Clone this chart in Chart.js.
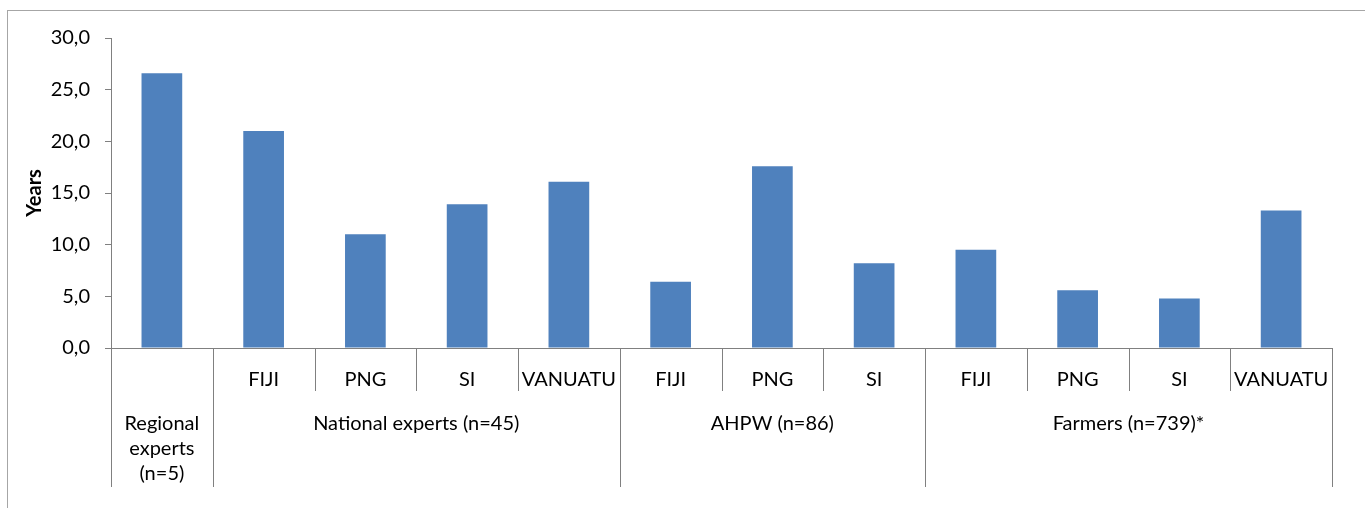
<!DOCTYPE html>
<html>
<head>
<meta charset="utf-8">
<script src="https://cdn.jsdelivr.net/npm/chart.js@4/dist/chart.umd.min.js"></script>
<style>
html,body{margin:0;padding:0;background:#fff;}
#wrap{width:1365px;height:508px;position:relative;}
</style>
</head>
<body>
<div id="wrap"><canvas id="c" width="1365" height="508"></canvas></div>
<script>
// ---- data ----
const groupNames = ['Regional experts (n=5)', 'National experts (n=45)', 'AHPW (n=86)', 'Farmers (n=739)*'];
const groupLines = [['Regional', 'experts', '(n=5)'], ['National experts (n=45)'], ['AHPW (n=86)'], ['Farmers (n=739)*']];
const subLabels = ['', 'FIJI', 'PNG', 'SI', 'VANUATU', 'FIJI', 'PNG', 'SI', 'FIJI', 'PNG', 'SI', 'VANUATU'];
const groupOf = [0, 1, 1, 1, 1, 2, 2, 2, 3, 3, 3, 3];
const values = [26.6, 21.0, 11.0, 13.9, 16.1, 6.4, 17.6, 8.2, 9.5, 5.6, 4.8, 13.3];
const yTicks = [0, 5, 10, 15, 20, 25, 30];
const yTitle = 'Years';

const labels = subLabels.map((s, i) => s ? s : groupNames[groupOf[i]]);
const FONT = 'Lato, "Open Sans", sans-serif';
const AXIS = '#808080';

const multiLevel = {
  id: 'multiLevel',
  afterDraw(chart) {
    const ctx = chart.ctx;
    const xs = chart.scales.x;
    const n = labels.length;
    const cw = (xs.right - xs.left) / n;
    const y0 = xs.top;
    ctx.save();
    ctx.strokeStyle = AXIS;
    ctx.lineWidth = 1;
    for (let i = 0; i <= n; i++) {
      const bx = Math.round(xs.left + i * cw) + 0.5;
      const isGroup = i === 0 || i === n || groupOf[i] !== groupOf[i - 1];
      ctx.beginPath();
      ctx.moveTo(bx, y0);
      ctx.lineTo(bx, isGroup ? 487 : 391);
      ctx.stroke();
    }
    ctx.fillStyle = '#000';
    ctx.font = '20px ' + FONT;
    ctx.textAlign = 'center';
    ctx.textBaseline = 'middle';
    for (let i = 0; i < n; i++) {
      if (subLabels[i]) ctx.fillText(subLabels[i], xs.getPixelForValue(i), 380);
    }
    groupLines.forEach((lines, g) => {
      const idx = groupOf.map((v, i) => v === g ? i : -1).filter(v => v >= 0);
      const cx = xs.left + (idx[0] + idx[idx.length - 1] + 1) / 2 * cw;
      lines.forEach((t, k) => ctx.fillText(t, cx, 424 + k * 25));
    });
    // y title
    ctx.font = 'bold 20px ' + FONT;
    ctx.translate(35, (chart.chartArea.top + chart.chartArea.bottom) / 2);
    ctx.rotate(-Math.PI / 2);
    ctx.fillText(yTitle, 0, 0);
    ctx.restore();
    // outer frame
    ctx.save();
    ctx.strokeStyle = '#a6a6a6';
    ctx.lineWidth = 1;
    ctx.strokeRect(7.5, 10.5, 1400, 600);
    ctx.restore();
  }
};

new Chart(document.getElementById('c'), {
  type: 'bar',
  data: {
    labels: labels,
    datasets: [{
      data: values,
      backgroundColor: '#4F81BD',
      barPercentage: 0.4,
      categoryPercentage: 1.0
    }]
  },
  options: {
    responsive: false,
    animation: false,
    devicePixelRatio: 1,
    layout: { padding: { top: 38, right: 33, bottom: 0, left: 0 } },
    plugins: { legend: { display: false }, tooltip: { enabled: false } },
    scales: {
      x: {
        ticks: { display: false },
        grid: { display: false },
        border: { display: true, color: AXIS, width: 1 },
        afterFit(s) { s.height = 160; }
      },
      y: {
        min: 0, max: 30,
        afterBuildTicks(s) { s.ticks = yTicks.map(v => ({ value: v })); },
        ticks: {
          padding: 15,
          color: '#000',
          font: { family: FONT, size: 20 },
          callback: v => v.toFixed(1).replace('.', ',')
        },
        grid: { drawOnChartArea: false, drawTicks: true, tickLength: 6, color: AXIS },
        border: { display: true, color: AXIS, width: 1 },
        afterFit(s) { s.width = 111; }
      }
    }
  },
  plugins: [multiLevel]
});
</script>
</body>
</html>
